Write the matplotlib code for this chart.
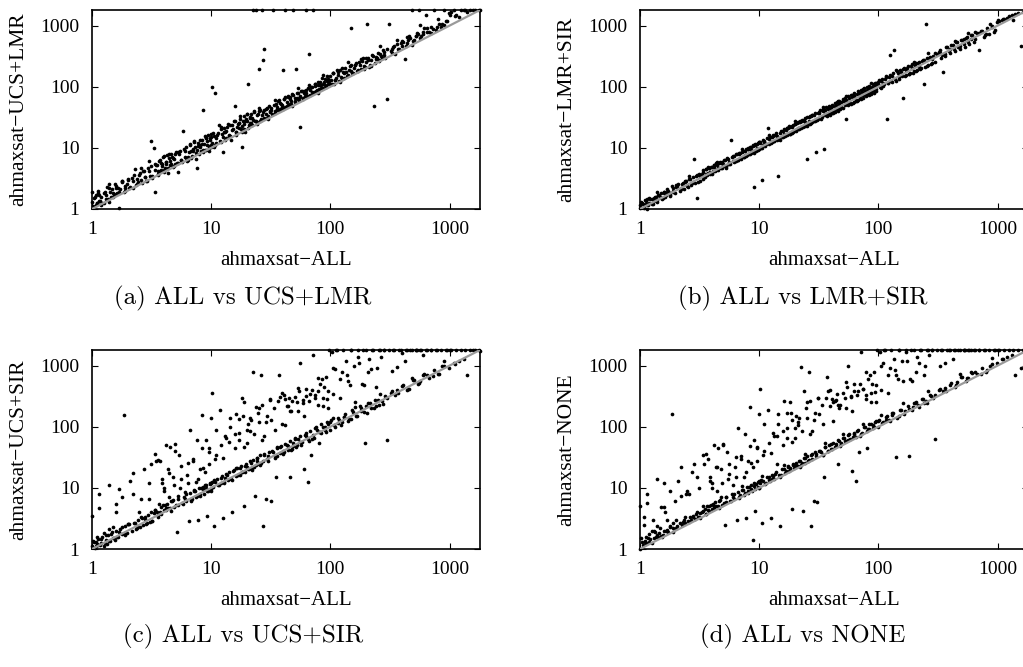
import matplotlib
matplotlib.use("Agg")
from matplotlib import pyplot as plt

# run times (s) of ahmaxsat-ALL, shared x of all four panels
x_all = [
    1.0, 1.0, 1.02, 1.05, 1.08, 1.1, 1.12, 1.15, 1.18, 1.2, 1.25, 1.3, 1.33, 1.38, 1.42, 1.47, 1.5, 1.55,
    1.6, 1.65, 1.7, 1.78, 1.85, 1.9, 2.0, 2.1, 2.2, 2.3, 2.4, 2.5, 2.6, 2.75, 2.85, 3.0, 3.1,
    3.3, 3.4, 3.5, 3.6, 3.7, 3.8, 3.9, 4.0, 4.1, 4.2, 4.3, 4.4, 4.5, 4.6, 4.8, 4.9, 5.0, 5.2, 5.3, 5.5,
    5.6, 5.8, 6.0, 6.2, 6.3, 6.5, 6.7, 6.9, 7.0, 7.2, 7.4, 7.6, 7.8, 8.0, 8.2, 8.4, 8.6, 8.8, 9.0, 9.2,
    9.4, 9.6, 9.8,
    10.2, 10.5, 10.8, 11, 11.4, 11.8, 12.1, 12.5, 12.9, 13.2, 13.6, 14, 14.3, 14.7, 15, 15.4, 15.9, 16.3,
    16.8, 17.2, 17.6, 18, 18.3, 18.7, 19, 19.4, 19.8, 20.3, 20.8, 21.2, 21.7, 22.3, 22.8, 23.3, 23.9, 24.4,
    25, 25.6, 26.2, 26.8, 27.4, 28, 28.7, 29.3, 30, 30.6, 31.3,
    32, 33, 34, 35, 36, 37, 38, 39, 40, 41, 42, 43, 44.5, 45.5, 46.5, 48, 49, 50, 51.5, 53, 54, 55.5, 57,
    58.5, 60, 61.5, 63, 64.5, 66, 67.5, 69, 71, 73, 75, 77, 79, 81, 83, 85, 87, 89, 91, 93, 95, 97.5,
    100, 103, 106, 110, 114, 118, 122, 126, 130, 135, 140, 145, 150, 156, 162, 168, 174, 180, 187, 194,
    201, 208, 216, 224, 232, 240, 249, 258, 267, 277, 287, 297, 308,
    320, 335, 350, 365, 380, 400, 420, 440, 460, 480, 505, 530, 555, 580, 610, 640, 670, 700, 735, 770,
    810, 850, 890, 935, 980,
    1030, 1080, 1130, 1190, 1250, 1320, 1400, 1480, 1560, 1650, 1750, 1800,
    # second batch of instances
    1.03, 1.07, 1.13, 1.17, 1.22, 1.28, 1.35, 1.4, 1.45, 1.52, 1.58, 1.63, 1.72, 1.8, 1.88, 1.95, 2.05,
    2.15, 2.25, 2.35, 2.45, 2.55, 2.65, 2.7, 2.8, 2.9, 2.95, 3.05, 3.15, 3.2,
    3.35, 3.45, 3.55, 3.65, 3.75, 3.85, 3.95, 4.05, 4.15, 4.25, 4.35, 4.55, 4.7, 4.85, 5.1, 5.25, 5.4,
    5.7, 5.9, 6.1, 6.4, 6.6, 6.8, 7.1, 7.3, 7.5, 7.7, 7.9, 8.1, 8.3, 8.5, 8.7, 8.9, 9.1, 9.3, 9.5, 9.7,
    9.9, 9.95, 10.0,
    10.1, 10.4, 10.7, 11.2, 11.6, 12.0, 12.3, 12.7, 13.0, 13.4, 13.9, 14.5, 15.2, 15.7, 16.1, 16.6, 17.0,
    17.4, 17.9, 18.5, 19.2, 19.6, 20.0, 20.5, 21.0, 21.5, 22.0, 22.5, 23.0, 23.6, 24.1, 24.7, 25.3, 25.9,
    26.5, 27.1, 27.7, 29.0, 29.6, 31.0,
    32.5, 33.5, 34.5, 35.5, 36.5, 37.5, 38.5, 39.5, 40.5, 41.5, 43.5, 44, 45, 46, 47, 48.5, 50.5, 52, 52.5,
    54.5, 56, 57.5, 59, 62, 62.5, 65, 68, 70, 72, 74, 76, 78, 80, 82, 84, 86, 90, 92, 94, 96,
    101, 105, 108, 112, 116, 120, 124, 128, 133, 138, 143, 148, 153, 159, 165, 171, 177, 184, 191, 198,
    205, 212, 220, 228, 236, 245, 254, 263, 272, 282,
    330, 345, 372, 390, 410, 430, 450, 470, 495, 520, 545, 570, 600, 650, 720, 790, 870, 960, 1100, 1350,
    # third batch
    1.1, 1.15, 1.25, 1.3, 1.4, 1.5, 1.6, 1.7, 1.8, 1.9, 2.0, 2.2, 2.4, 2.6, 2.8, 3.0,
    3.2, 3.4, 3.6, 3.8, 4.0, 4.2, 4.4, 4.6, 4.8, 5.0, 5.3, 5.6, 6.0, 6.4, 6.8, 7.2, 7.6, 8.0, 8.5, 9.0, 9.5,
    10, 10.5, 11, 12, 12.5, 13, 14, 15, 16, 17, 18, 19, 20, 21, 22, 24, 25, 26, 28, 30,
    32, 34, 36, 38, 40, 42, 44, 46, 48, 50, 53, 56, 60, 63, 66, 70, 74, 78, 82, 86, 90, 95,
    100, 105, 110, 115, 120, 130, 140, 150, 160, 170, 180, 190, 200, 220, 240, 260, 280, 300,
    330, 360, 400, 440, 480, 520, 560, 600, 650, 700, 800, 900, 1000,
]

y_ucs_lmr = [
    1.3, 1.9, 1.1, 1.6, 1.7, 1.25, 2.0, 1.35, 1.55, 1.15, 1.8, 1.45, 2.3, 1.3, 1.9, 2.1, 1.55, 2.6,
    1.75, 2.2, 1.05, 2.8, 1.9, 2.4, 3.1, 2.3, 2.9, 4.5, 2.6, 3.6, 3.0, 4.2, 2.9, 6.0, 13.0,
    10.0, 1.9, 5.2, 3.7, 6.4, 4.3, 5.0, 7.5, 4.6, 5.9, 3.9, 6.8, 5.3, 8.0, 4.9, 6.6, 7.8, 5.6, 4.0, 9.0,
    6.3, 19.0, 7.2, 10.5, 6.0, 8.4, 11.5, 7.4, 9.6, 12.5, 8.2, 4.7, 10.8, 13.5, 8.9, 11.5, 42.0, 9.4,
    14.5, 11.0, 16.5, 10.0, 13.2,
    100, 15.5, 80, 12.0, 17.5, 13.0, 20.0, 8.6, 18.0, 14.5, 22.0, 16.0, 24.0, 13.5, 19.5, 27.0, 48, 18.0,
    25.0, 21.0, 30.0, 10.2, 23.0, 33.0, 20.5, 27.5, 36.0, 110, 24.0, 31.0, 26.0, 1800, 38.0, 28.0, 1800,
    34.0, 195, 41.0, 29.0, 1800, 270, 420, 36.0, 45.0, 33.0, 48.0, 39.0,
    45, 1800, 37, 52, 41, 60, 44, 50, 185, 62, 1800, 48, 70, 53, 58, 75, 1800, 56, 195, 80, 62, 22, 85,
    66, 78, 70, 1800, 95, 340, 74, 100, 1800, 82, 110, 88, 120, 92, 105, 140, 96, 118, 104, 150, 110, 125,
    150, 112, 165, 130, 190, 125, 145, 200, 140, 175, 155, 215, 900, 170, 230, 180, 250, 195, 300, 210,
    1050, 270, 230, 330, 48, 280, 350, 265, 320, 400, 300, 62, 1050,
    380, 450, 340, 500, 420, 560, 280, 520, 680, 1800, 580, 760, 1800, 680, 900, 1500, 800, 950, 1800, 860,
    1050, 950, 1800, 1200, 1600,
    1650, 1800, 1500, 1400, 1800, 1800, 1700, 1800, 1800, 1800, 1800, 1800,
    1.5, 1.15, 1.8, 1.35, 1.25, 1.9, 1.45, 2.2, 1.6, 1.7, 2.4, 1.85, 2.1, 2.9, 2.0, 2.6, 2.2,
    3.2, 3.6, 2.5, 2.8, 3.9, 2.7, 4.2, 3.3, 2.9, 4.6, 3.5, 5.0, 3.2,
    4.4, 5.2, 3.6, 6.0, 4.2, 5.5, 7.0, 4.4, 5.8, 7.6, 4.6, 6.2, 7.2, 5.0, 8.6, 5.6, 7.8,
    5.9, 9.5, 6.8, 7.0, 11.0, 6.9, 8.9, 10.2, 6.6, 12.0, 8.0, 10.5, 13.5, 8.4, 11.5, 15.5, 9.2, 12.8,
    8.8, 14.5, 10.2, 17.0, 11.0,
    12.0, 17.5, 11.0, 16.0, 24.0, 12.5, 17.0, 21.0, 13.5, 19.0, 24.5, 15.5, 20.5, 28.0, 16.5, 22.0, 25.5,
    33.0, 20.0, 27.0, 18.0, 30.0, 27.5, 21.0, 32.0, 36.0, 23.5, 29.0, 40.0, 28.0, 25.0, 36.0, 45.0, 27.5,
    34.0, 39.0, 31.0, 44.0, 31.0, 40.0,
    36.0, 50.0, 40.0, 46.0, 58.0, 41.0, 53.0, 47.0, 64.0, 46.0, 56.0, 68.0, 50.0, 62.0, 52.0, 72.0, 58.0,
    66.0, 80.0, 60.0, 70.0, 84.0, 64.0, 78.0, 90.0, 70.0, 88.0, 98.0, 78.0, 102.0, 84.0, 108.0, 90.0,
    118.0, 96.0, 112.0, 135.0, 100.0, 124.0, 130.0,
    130, 165, 112, 140, 158, 185, 135, 172, 200, 150, 190, 225, 165, 205, 240, 180, 230, 265, 195, 255,
    295, 210, 275, 320, 240, 300, 270, 345, 300, 370,
    410, 470, 420, 520, 540, 470, 590, 620, 570, 680, 720, 630, 780, 800, 880, 950, 1050, 1200, 1450, 1800,
    1.27, 1.72, 1.25, 1.69, 2.52, 1.8, 2.24, 1.87, 2.88, 2.19, 3.0, 2.2, 3.12, 4.68, 3.36, 4.2,
    3.52, 5.44, 4.14, 5.7, 4.0, 5.46, 7.92, 5.52, 6.72, 5.5, 8.48, 6.44, 9.0, 6.4, 8.84, 12.96, 9.12, 11.2,
    9.35, 14.4, 10.9,
    15, 10.5, 14.3, 21.6, 15, 18.2, 15.4, 24, 18.4, 25.5, 18, 24.7, 36, 25.2, 30.8, 26.4, 40, 29.9, 42, 30,
    41.6, 61.2, 43.2, 53.2, 44, 67.2, 50.6, 69, 48, 65, 95.4, 67.2, 84, 69.3, 105.6, 80.5, 111, 78, 106.6,
    154.8, 108, 133,
    110, 168, 126.5, 172.5, 120, 169, 252, 180, 224, 187, 288, 218.5, 300, 220, 312, 468, 336, 420,
    363, 576, 460, 660, 480, 676, 1008, 720, 910, 770, 1280, 1035, 1500,
]

y_lmr_sir = [
    1.15, 1.05, 1.3, 1.2, 1.1, 1.4, 1.2, 1.0, 1.5, 1.25, 1.45, 1.35, 1.6, 1.4, 1.7, 1.55, 1.8, 1.5,
    1.9, 1.7, 2.1, 1.8, 2.4, 1.9, 2.3, 2.6, 2.2, 2.7, 2.9, 2.4, 3.1, 2.7, 6.5, 1.5, 3.6,
    3.7, 4.0, 3.4, 4.5, 3.9, 4.6, 3.8, 4.9, 4.2, 5.2, 4.3, 5.3, 4.4, 5.6, 4.7, 5.8, 5.0, 6.3, 5.1, 6.6,
    5.4, 13.5, 6.0, 7.3, 6.0, 7.8, 6.4, 8.2, 6.6, 8.6, 7.0, 9.0, 7.4, 9.6, 7.8, 10.2, 8.2, 10.6, 2.3,
    11.0, 8.8, 11.6, 9.2,
    12.0, 3.0, 11.0, 13.0, 11.5, 21.0, 13.8, 12.0, 15.2, 12.8, 16.0, 13.5, 3.5, 14.0, 17.5, 14.8, 18.8,
    15.5, 19.5, 16.0, 21.0, 17.0, 22.0, 17.5, 23.0, 18.5, 24.5, 19.0, 25.5, 20.0, 26.5, 21.0, 28.0, 22.0,
    29.0, 23.0, 6.5, 24.5, 31.5, 25.0, 33.0, 26.5, 35.0, 27.5, 8.5, 29.0, 37.0,
    38, 30, 40, 9.5, 41, 33, 44, 35, 46, 37, 48, 38, 51, 40, 53, 43, 56, 45, 59, 30.0, 61, 50, 65, 52,
    68, 55, 71, 58, 76, 61, 79, 63, 82, 66, 86, 70, 90, 73, 95, 77, 99, 80, 104, 84, 108,
    120, 98, 126, 102, 135, 30, 142, 330, 118, 400, 126, 165, 135, 175, 65, 150, 200, 160, 215, 170,
    230, 180, 245, 195, 260, 110, 1050, 220, 300, 235, 320, 250, 345,
    370, 300, 175, 340, 440, 350, 490, 380, 530, 420, 580, 450, 640, 500, 700, 540, 760, 400, 810, 650,
    900, 720, 1000, 780, 1150,
    1200, 1250, 1300, 1350, 1420, 1480, 1550, 1600, 470, 1700, 1750, 1800,
    1.25, 1.05, 1.35, 1.15, 1.45, 1.2, 1.6, 1.3, 1.7, 1.45, 1.85, 1.55, 2.0, 1.7, 2.2, 1.85, 2.4,
    2.0, 2.6, 2.15, 2.9, 2.3, 3.1, 2.5, 3.3, 2.7, 3.5, 2.8, 3.8, 2.9,
    4.3, 3.4, 4.5, 3.6, 4.8, 4.0, 4.9, 3.9, 5.3, 4.2, 5.6, 4.6, 5.8, 4.7, 6.4, 5.0, 6.8,
    5.5, 7.2, 5.8, 8.0, 6.4, 8.3, 6.8, 9.0, 7.1, 9.6, 7.6, 10.0, 7.9, 10.5, 8.4, 11.0, 8.8, 11.6, 9.2,
    12.0, 9.6, 12.5, 9.7,
    12.5, 10.0, 13.2, 10.8, 14.5, 11.6, 15.0, 12.3, 16.2, 12.9, 17.5, 13.8, 19.0, 15.0, 20.0, 15.9, 21.5,
    16.8, 22.5, 17.8, 24.0, 18.8, 25.0, 19.8, 26.5, 20.6, 27.5, 21.6, 29.0, 22.4, 30.5, 23.6, 32.0, 25.0,
    33.5, 26.0, 35.0, 28.0, 37.0, 30.0,
    41, 32, 43, 34, 46, 36, 48, 38, 51, 40, 55, 43, 56, 44, 59, 47, 63, 50, 66, 52, 70, 54, 72, 57,
    79, 60, 84, 66, 90, 72, 94, 74, 98, 78, 104, 82, 112, 90, 116, 93,
    130, 102, 136, 110, 148, 115, 156, 124, 168, 132, 178, 142, 190, 150, 205, 158, 215, 168, 232, 178,
    240, 188, 255, 200, 272, 210, 290, 225, 310, 240,
    395, 330, 440, 380, 480, 420, 530, 450, 580, 500, 630, 540, 700, 600, 820, 700, 1050, 850, 1300, 1250,
    1.16, 1.44, 1.19, 1.5, 1.89, 1.5, 1.92, 1.87, 1.62, 2.0, 2.5, 2.09, 2.76, 3.51, 2.8, 3.6,
    3.52, 3.06, 3.78, 4.75, 3.8, 4.83, 5.94, 4.6, 5.76, 5.5, 4.77, 5.88, 7.5, 6.08, 7.82, 9.72, 7.6, 9.6,
    9.35, 8.1, 9.98,
    12.5, 9.98, 12.65, 16.2, 12.5, 15.6, 15.4, 13.5, 16.8, 21.25, 17.1, 21.85, 27, 21, 26.4, 26.4, 22.5,
    27.3, 35, 28.5,
    36.8, 45.9, 36, 45.6, 44, 37.8, 46.2, 57.5, 45.6, 57.5, 71.55, 56, 72, 69.3, 59.4, 73.5, 92.5, 74.1,
    94.3, 116.1, 90, 114,
    110, 94.5, 115.5, 143.75, 114, 149.5, 189, 150, 192, 187, 162, 199.5, 250, 209, 276, 351, 280, 360,
    363, 324, 420, 550, 456, 598, 756, 600, 780, 770, 720, 945, 1250,
]

y_ucs_sir = [
    1.1, 3.5, 1.35, 1.05, 1.3, 1.6, 1.15, 8.0, 1.45, 1.25, 1.8, 1.4, 1.2, 2.1, 1.35, 1.9, 2.3, 1.4,
    5.5, 1.6, 9.5, 2.3, 155, 1.8, 2.6, 13.0, 8.0, 2.7, 2.2, 4.0, 3.3, 20.0, 2.6, 6.5, 25.0,
    3.9, 36, 4.0, 3.3, 27, 4.8, 12.0, 4.3, 5.2, 50, 4.6, 7.0, 47, 6.0, 15.0, 4.9, 52, 1.9, 7.3, 10.0,
    23, 5.5, 8.5, 7.8, 16.0, 2.9, 90, 6.5, 28, 9.0, 12.5, 7.4, 3.0, 20.0, 10.0, 155, 9.5, 11.0, 60,
    3.5, 9.0, 45, 11.5,
    350, 2.4, 12.5, 35, 11.0, 190, 14.5, 3.2, 12.5, 65, 16.0, 18.0, 140, 14.0, 4.0, 19.5, 75, 160,
    16.5, 80, 21.0, 290, 18.0, 250, 5.0, 23.0, 55, 110, 20.0, 140, 26.0, 800, 22.0, 7.5, 210,
    28.0, 120, 24.0, 700, 60, 2.4, 34.0, 6.5, 150, 28.0, 38.0, 270,
    6.0, 38.0, 90, 15.0, 33.0, 700, 46.0, 110, 36.0, 330, 280, 50.0, 220, 15.0, 42.0, 260, 55.0, 310,
    46.0, 180, 62.0, 1100, 50.0, 240, 20.0, 72.0, 420, 12.5, 58.0, 340, 35.0, 1500, 66.0, 290, 90.0,
    380, 55.0, 78.0, 600, 98.0, 450, 82.0, 280, 110.0, 1800,
    120, 1700, 340, 98, 1800, 130, 108, 800, 145, 1200, 125, 480, 1800, 175, 250, 150, 1100, 205, 1800,
    55, 170, 800, 240, 1800, 205, 450, 275, 1800, 1400, 235, 320, 60, 1800,
    360, 1800, 330, 950, 1800, 470, 1200, 1800, 410, 1800, 580, 1800, 510, 1800, 720, 1800, 620, 1800,
    850, 1800, 720, 1800, 1000, 1800, 900,
    1800, 1100, 1800, 1200, 1800, 1300, 700, 1800, 1800, 1800, 1800, 1750,
    1.3, 1.1, 1.45, 1.15, 1.55, 1.25, 1.7, 1.35, 1.75, 1.5, 1.95, 1.6, 2.1, 1.75, 2.35, 1.85, 2.6,
    2.0, 2.7, 2.15, 3.0, 2.3, 3.2, 2.5, 3.4, 2.7, 3.6, 2.8, 4.0, 2.9,
    4.4, 27, 3.6, 5.5, 4.0, 14.0, 5.2, 9.0, 4.3, 5.4, 20, 4.6, 6.2, 11.0, 5.2, 6.6, 35,
    5.7, 7.2, 6.0, 12.0, 8.3, 6.4, 30, 9.0, 7.2, 14.0, 10.0, 7.5, 45, 10.5, 8.0, 18.0, 11.0, 9.0, 25,
    12.2, 9.6, 140, 12.0,
    12.5, 10.5, 30, 14.0, 11.0, 50, 15.5, 12.0, 70, 17.0, 13.5, 100, 19.0, 45, 15.5, 21.0, 60,
    16.0, 23.0, 150, 18.5, 25.0, 90, 20.0, 27.0, 130, 21.0, 29.0, 75, 24.0, 31.0, 170, 25.0, 34.0, 230,
    27.0, 36.0, 120, 30.0, 280,
    40.0, 200, 33.0, 45.0, 260, 37.0, 49.0, 350, 39.0, 53.0, 220, 42.0, 300, 58.0, 180, 48.0, 64.0,
    250, 51.0, 380, 70.0, 56.0, 270, 78.0, 320, 64.0, 86.0, 400, 72.0, 330, 98.0, 230, 82.0, 500, 110.0,
    300, 90.0, 650, 120.0, 200,
    130, 900, 105, 1800, 140, 600, 118, 1800, 160, 700, 135, 1800, 185, 1000, 150, 1800, 215, 500, 175,
    1800, 240, 1300, 200, 1800, 270, 900, 225, 1800, 260, 1800,
    380, 1800, 350, 1800, 480, 1800, 420, 1800, 580, 1800, 500, 1800, 700, 1800, 680, 1800, 1000, 1800,
    1050, 1800,
    1.21, 4.6, 1.13, 1.69, 11.2, 1.5, 4.0, 1.87, 7.2, 1.71, 2.6, 17.6, 2.4, 6.5, 3.08, 12,
    2.88, 4.42, 28.8, 3.8, 10, 4.62, 17.6, 4.14, 6.24, 40, 5.3, 14, 6.6, 25.6, 6.12, 9.36, 60.8, 8.0,
    21.25, 9.9, 38,
    9.0, 13.65, 88, 12, 31.25, 14.3, 56, 13.5, 20.8, 136, 18, 47.5, 22, 84, 19.8, 31.2, 200, 26, 70, 33,
    128, 30.6, 46.8, 304, 40, 105, 48.4, 184, 43.2, 65, 424, 56, 150, 69.3, 264, 63, 96.2, 624, 82, 215,
    99, 380,
    90, 136.5, 880, 115, 300, 143, 560, 135, 208, 1360, 180, 475, 220, 880, 216, 338, 1800, 300,
    825, 396, 1600, 396, 624, 1800, 560, 1500, 715, 1800, 720, 1170, 1800,
]

y_none = [
    1.0, 5.0, 1.5, 1.15, 3.3, 1.35, 1.6, 8.0, 1.3, 1.75, 2.0, 1.5, 1.9, 2.4, 1.6, 2.2, 4.8, 1.7,
    12.0, 2.0, 3.0, 2.3, 160, 2.7, 2.2, 13.0, 7.5, 2.8, 3.3, 9.0, 2.8, 18.0, 25.0, 4.0, 3.4,
    4.0, 35, 4.5, 3.8, 30, 5.0, 13.0, 4.5, 5.4, 50, 5.0, 9.0, 45, 6.0, 20.0, 5.3, 52, 2.5, 7.2, 14.0,
    25, 6.2, 11.0, 8.0, 22.0, 3.0, 95, 7.6, 33, 9.2, 15.0, 8.2, 3.2, 28.0, 10.5, 210, 9.5, 1.4, 60,
    4.2, 11.5, 45, 10.5,
    420, 2.7, 13.0, 40, 12.0, 190, 15.0, 3.2, 14.0, 70, 17.0, 25.0, 160, 16.0, 2.4, 20.0, 85, 260,
    19.0, 95, 23.0, 250, 21.0, 130, 4.5, 25.0, 65, 150, 23.0, 120, 28.0, 950, 26.0, 4.2, 380,
    31.0, 140, 28.0, 800, 75, 2.4, 36.0, 6.0, 170, 33.0, 5.8, 300,
    40.0, 38.0, 110, 15.0, 46.0, 640, 40.0, 220, 52.0, 280, 250, 47.0, 270, 25.0, 58.0, 230, 54.0, 360,
    66.0, 200, 58.0, 1000, 75.0, 310, 19.0, 68.0, 500, 13.0, 85.0, 380, 38.0, 1700, 80.0, 420, 98.0,
    330, 45.0, 92.0, 700, 110.0, 500, 100.0, 370, 125.0, 1800,
    125, 1700, 400, 120, 1800, 150, 130, 900, 165, 1300, 32, 600, 1800, 190, 550, 180, 1200, 33, 1800,
    210, 240, 800, 230, 1800, 280, 700, 260, 1800, 1500, 320, 300, 63, 1800,
    400, 1800, 380, 1100, 1800, 480, 1300, 1800, 530, 1800, 640, 1800, 620, 1800, 760, 1800, 720, 1800,
    900, 1800, 850, 1800, 1050, 1800, 1100,
    1800, 1300, 1800, 1400, 1800, 1500, 700, 1800, 900, 1800, 1800, 1800,
    1.3, 2.5, 1.25, 1.5, 1.45, 3.0, 1.55, 1.7, 1.8, 1.6, 2.0, 4.0, 1.9, 2.4, 2.2, 6.0, 2.4,
    2.7, 2.5, 3.0, 8.0, 2.9, 3.3, 3.0, 3.5, 3.1, 3.8, 3.3, 10.0, 3.9,
    4.2, 25, 3.8, 5.0, 4.4, 15.0, 5.3, 10.0, 4.6, 5.8, 22, 5.0, 6.4, 12.0, 5.6, 7.0, 38,
    6.2, 7.8, 6.5, 15.0, 8.6, 7.0, 30, 9.4, 7.6, 18.0, 10.5, 8.3, 48, 11.0, 8.8, 22.0, 12.0, 9.5, 28,
    12.5, 10.0, 160, 13.0,
    12.0, 13.5, 35, 11.5, 15.0, 55, 13.0, 16.5, 80, 14.0, 18.0, 110, 16.0, 50, 20.0, 17.5, 65,
    22.0, 19.0, 170, 24.0, 21.0, 95, 26.0, 22.5, 140, 28.0, 24.0, 85, 31.0, 26.0, 200, 33.0, 28.0, 260,
    35.0, 30.0, 130, 38.0, 300,
    40.0, 230, 35.0, 46.0, 290, 40.0, 50.0, 400, 44.0, 54.0, 260, 48.0, 340, 60.0, 200, 53.0, 66.0,
    300, 58.0, 450, 72.0, 62.0, 320, 80.0, 380, 68.0, 88.0, 500, 76.0, 420, 98.0, 280, 84.0, 600, 110.0,
    350, 96.0, 800, 120.0, 250,
    130, 1000, 115, 1800, 145, 700, 125, 1800, 165, 850, 140, 1800, 190, 1200, 160, 1800, 220, 600, 185,
    1800, 250, 1400, 210, 1800, 280, 1000, 240, 1800, 330, 1800,
    420, 1800, 380, 1800, 520, 1800, 480, 1800, 640, 1800, 560, 1800, 780, 1800, 720, 1800, 1000, 1800,
    1300, 1800,
    1.32, 5.75, 1.25, 1.95, 14, 1.65, 4.8, 2.04, 9.0, 1.9, 3.0, 22, 2.64, 7.8, 3.36, 15,
    3.2, 5.1, 36, 4.18, 12, 5.04, 22, 4.6, 7.2, 50, 5.83, 16.8, 7.2, 32, 6.8, 10.8, 76, 8.8, 25.5, 10.8,
    47.5,
    10, 15.75, 110, 13.2, 37.5, 15.6, 70, 15, 24, 170, 19.8, 57, 24, 105, 22, 36, 250, 28.6, 84, 36,
    160, 34, 54, 380, 44, 126, 52.8, 230, 48, 75, 530, 61.6, 180, 75.6, 330, 70, 111, 780, 90.2, 258,
    108, 475,
    100, 157.5, 1100, 126.5, 360, 156, 700, 150, 240, 1700, 198, 570, 240, 1100, 240, 390, 1800, 330,
    990, 432, 1800, 440, 720, 1800, 616, 1800, 780, 1800, 800, 1350, 1800,
]

panels = [
    ("ahmaxsat\u2212UCS+LMR", y_ucs_lmr, "(a) ALL vs UCS+LMR"),
    ("ahmaxsat\u2212LMR+SIR", y_lmr_sir, "(b) ALL vs LMR+SIR"),
    ("ahmaxsat\u2212UCS+SIR", y_ucs_sir, "(c) ALL vs UCS+SIR"),
    ("ahmaxsat\u2212NONE", y_none, "(d) ALL vs NONE"),
]
x_name = "ahmaxsat\u2212ALL"
ticks = [1, 10, 100, 1000]
tick_labels = ["1", "10", "100", "1000"]
lim = (1, 1800)

W, H = 1023, 667
fig = plt.figure(figsize=(W / 100, H / 100), dpi=100)
# axes boxes in pixels: left, top, width, height
boxes = [(92, 10, 388, 199), (640, 10, 388, 199), (92, 350, 388, 199), (640, 350, 388, 199)]
captions_xy = [(243, 298), (803, 298), (243, 636), (803, 636)]

serif = ["Liberation Serif", "DejaVu Serif"]
for (ylab, ys, cap), (l, t, w, h), (cx, cy) in zip(panels, boxes, captions_xy):
    ax = fig.add_axes([l / W, 1 - (t + h) / H, w / W, h / H])
    ax.set_xscale("log")
    ax.set_yscale("log")
    ax.scatter(x_all, ys, s=7, c="black", marker="o", linewidths=0, zorder=2, clip_on=False)
    ax.plot(lim, lim, color="#9a9a9a", lw=1.6, zorder=3)
    ax.set_xlim(lim)
    ax.set_ylim(lim)
    ax.set_xticks(ticks)
    ax.set_xticklabels(tick_labels, fontfamily=serif, fontsize=14)
    ax.set_yticks(ticks)
    ax.set_yticklabels(tick_labels, fontfamily=serif, fontsize=14)
    ax.minorticks_off()
    ax.tick_params(direction="in", length=4, width=0.8, top=True, right=True, pad=9)
    for sp in ax.spines.values():
        sp.set_linewidth(1.2)
    ax.set_xlabel(x_name, fontfamily=serif, fontsize=15, labelpad=9)
    ax.set_ylabel(ylab, fontfamily=serif, fontsize=15.5, labelpad=9)
    fig.text(cx / W, 1 - cy / H, cap, fontfamily="cmr10", fontsize=18, ha="center", va="center")

fig.savefig("out.png", dpi=100)
